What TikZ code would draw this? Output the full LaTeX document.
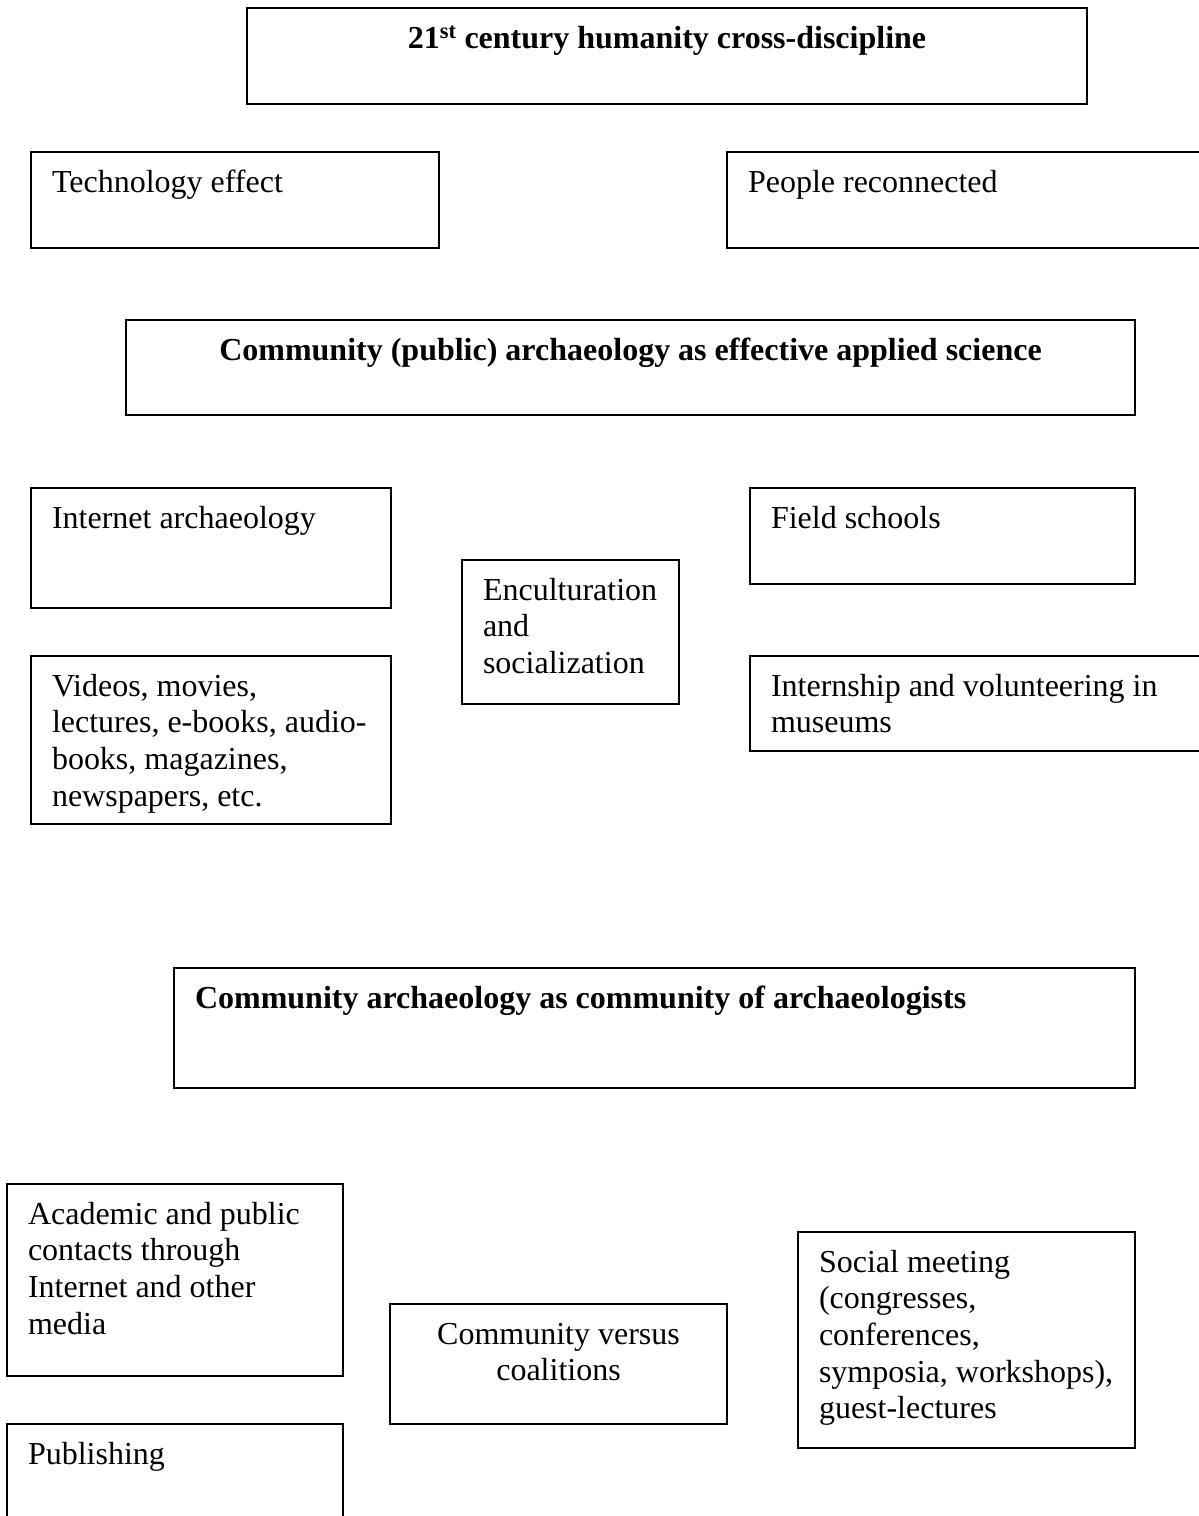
\documentclass[tikz,border=0pt]{standalone}
\usepackage{fontspec}
\setmainfont{Liberation Serif}
\hyphenpenalty=10000
\exhyphenpenalty=10000

\begin{document}
\fontsize{32}{36.7}\selectfont
\begin{tikzpicture}[x=1pt,y=-1pt,
  box/.style={draw, line width=2pt, anchor=north west, align=flush left,
    inner xsep=21pt, inner ysep=0pt, text height=40pt}]
  \useasboundingbox (0,0) rectangle (1199,1516);
  \clip (0,0) rectangle (1199,1516);

  % Top level
  \node[box, align=flush center, font=\bfseries, text width=798pt, text depth=56pt] (century) at (246,7)
    {21\textsuperscript{st} century humanity cross-discipline};
  \node[box, text width=366pt, text depth=56pt] (tech) at (30,151) {Technology effect};
  \node[box, text width=458pt, text depth=56pt] (people) at (726,151) {People reconnected};

  % Public archaeology
  \node[box, align=flush center, font=\bfseries, text width=967pt, text depth=55pt] (public) at (125,319)
    {Community (public) archaeology as effective applied science};
  \node[box, text width=318pt, text depth=80pt] (internet) at (30,487) {Internet archaeology};
  \node[box, text width=318pt, text depth=128pt] (videos) at (30,655)
    {Videos, movies,\\lectures, e-books, audio-\\books, magazines,\\newspapers, etc.};
  \node[box, text width=175pt, text depth=104pt] (encult) at (461,559)
    {Enculturation\\and\\socialization};
  \node[box, text width=343pt, text depth=56pt] (field) at (749,487) {Field schools};
  \node[box, text width=438pt, text depth=55pt] (intern) at (749,655)
    {Internship and volunteering in\\museums};

  % Community of archaeologists
  \node[box, font=\bfseries, text width=919pt, text depth=80pt] (commarch) at (173,967)
    {Community archaeology as community of archaeologists};
  \node[box, text width=294pt, text depth=152pt] (academic) at (6,1183)
    {Academic and public\\contacts through\\Internet and other\\media};
  \node[box, text width=294pt, text depth=80pt] (publish) at (6,1423) {Publishing};
  \node[box, align=flush center, text width=295pt, text depth=80pt] (versus) at (389,1303)
    {Community versus\\coalitions};
  \node[box, text width=295pt, text depth=176pt] (social) at (797,1231)
    {Social meeting\\(congresses,\\conferences,\\symposia, workshops),\\guest-lectures};
\end{tikzpicture}
\end{document}
